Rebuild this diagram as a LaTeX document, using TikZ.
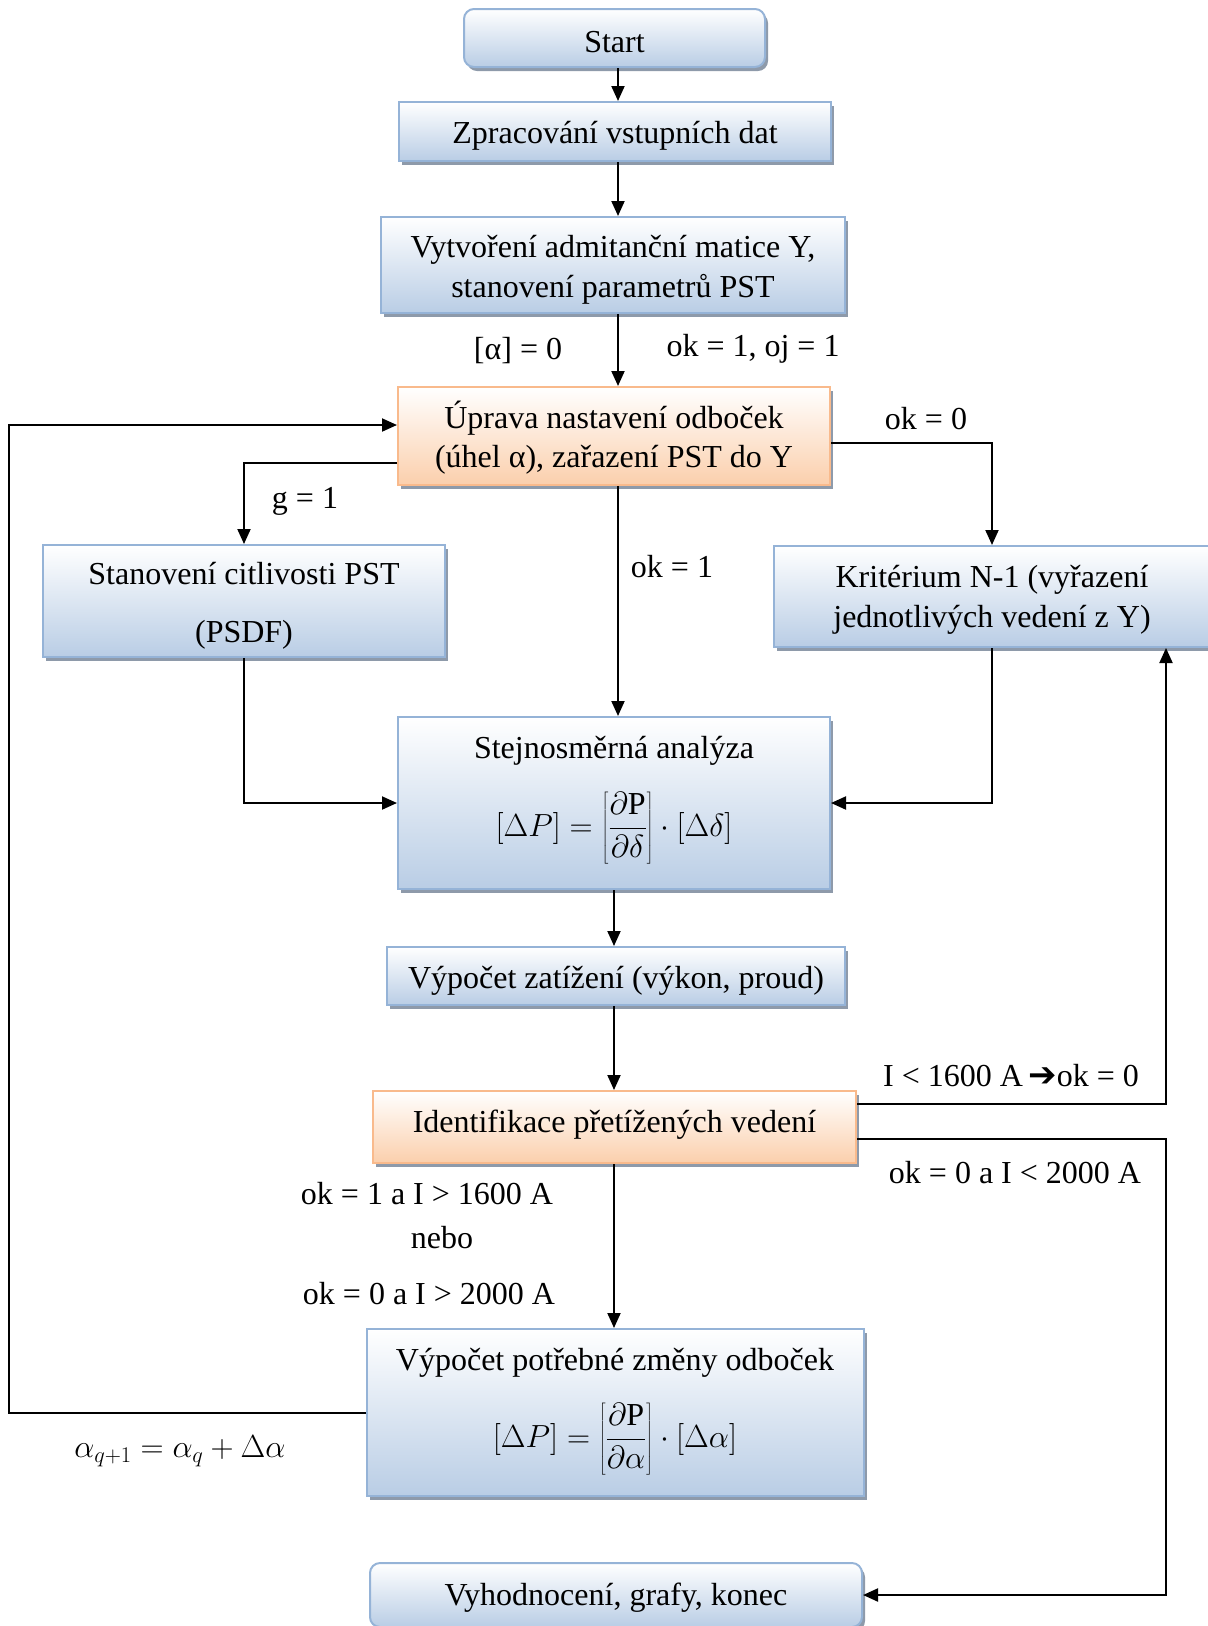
\RequirePackage{fix-cm}
\documentclass[tikz,border=0pt]{standalone}
\usepackage{fontspec}
\setmainfont{Liberation Serif}
\newfontfamily\djv{DejaVu Sans}
\usetikzlibrary{shadows,arrows.meta}
\definecolor{bluebot}{HTML}{B9CDE5}
\definecolor{blueline}{HTML}{95B3D7}
\definecolor{orbot}{HTML}{FBCFAC}
\definecolor{orline}{HTML}{F9BA8C}
\definecolor{shadowc}{HTML}{8E9AAA}
\newcommand{\bigfont}{\fontsize{32}{39.5}\selectfont}
\tikzset{
  bbox/.style={draw=blueline, line width=2pt, top color=white, bottom color=bluebot,
    drop shadow={shadow xshift=3pt, shadow yshift=-4pt, fill=shadowc, opacity=1},
    inner sep=0pt},
  obox/.style={bbox, draw=orline, bottom color=orbot},
  rbox/.style={bbox, rounded corners=10pt},
  txt/.style={inner sep=0pt, align=center, font=\bigfont},
  lbl/.style={inner sep=0pt, font=\bigfont},
  arr/.style={line width=2pt, -{Triangle[length=15pt,width=13pt]}}
}
\begin{document}
\begin{tikzpicture}[x=1pt,y=-1pt]
\useasboundingbox (0,0) rectangle (1208,1626);
% boxes
\node[rbox, minimum width=301pt, minimum height=58pt] (start) at (614.5,38) {};
\node[txt] (startT) at (614.5,42) {Start};
\node[bbox, minimum width=432pt, minimum height=59pt] (zprac) at (615,131.5) {};
\node[txt] (zpracT) at (615,135.5) {Zpracování vstupních dat};
\node[bbox, minimum width=464pt, minimum height=96pt] (vytv) at (613,265) {};
\node[txt] (vytvT) at (613,270) {Vytvoření admitanční matice Y,\\ stanovení parametrů PST};
\node[obox, minimum width=432pt, minimum height=98pt] (uprava) at (614,436) {};
\node[txt] (upravaT) at (614,437.5) {Úprava nastavení odboček\\ (úhel α), zařazení PST do Y};
\node[bbox, minimum width=402pt, minimum height=112pt] (stanov) at (244,601) {};
\node[txt] (stanovT) at (244,606) {Stanovení citlivosti PST\\[18pt](PSDF)};
\node[bbox, minimum width=436pt, minimum height=101pt] (krit) at (992,596.5) {};
\node[txt] (kritT) at (992,600) {Kritérium N-1 (vyřazení\\ jednotlivých vedení z Y)};
\node[bbox, minimum width=432pt, minimum height=172pt] (stejn) at (614,803) {};
\node[txt] (stejnT) at (614,751) {Stejnosměrná analýza};
\node[txt] (stejnF) at (614,828) {$\displaystyle [\Delta P] = \left[\frac{\partial \mathrm{P}}{\partial \delta}\right]\cdot[\Delta\delta]$};
\node[bbox, minimum width=458pt, minimum height=58pt] (zatiz) at (616,976) {};
\node[txt] (zatizT) at (616,981) {Výpočet zatížení (výkon, proud)};
\node[obox, minimum width=483pt, minimum height=72pt] (ident) at (614.5,1127) {};
\node[txt] (identT) at (614.5,1125) {Identifikace přetížených vedení};
\node[bbox, minimum width=497pt, minimum height=167pt] (potreb) at (615.5,1412.5) {};
\node[txt] (potrebT) at (615,1363) {Výpočet potřebné změny odboček};
\node[txt] (potrebF) at (615,1439) {$\displaystyle [\Delta P] = \left[\frac{\partial \mathrm{P}}{\partial \alpha}\right]\cdot[\Delta\alpha]$};
\node[rbox, minimum width=492pt, minimum height=64pt] (vyhod) at (616,1595) {};
\node[txt] (vyhodT) at (616,1598) {Vyhodnocení, grafy, konec};
% helper coordinates
\coordinate (cA) at (618,0);
\coordinate (cB) at (614,0);
\coordinate (rx) at (1166,0);
\coordinate (lx) at (9,0);
% connectors
\draw[arr] (start.south -| cA) -- (zprac.north -| cA);
\draw[arr] (zprac.south -| cA) -- (vytv.north -| cA);
\draw[arr] (vytv.south -| cA) -- (uprava.north -| cA);
\draw[arr] ([yshift=-27pt]uprava.west) -| (stanov.north);
\draw[arr] ([yshift=-7pt]uprava.east) -| (krit.north);
\draw[arr] (uprava.south -| cA) -- (stejn.north -| cA);
\draw[arr] (stanov.south) |- (stejn.west);
\draw[arr] (krit.south) |- (stejn.east);
\draw[arr] (stejn.south -| cB) -- (zatiz.north -| cB);
\draw[arr] (zatiz.south -| cB) -- (ident.north -| cB);
\draw[arr] (ident.south -| cB) -- (potreb.north -| cB);
\draw[arr] ([yshift=23pt]ident.east) -| (krit.south -| rx);
\draw[arr] ([yshift=-12pt]ident.east) -| (vyhod.east -| rx) -- (vyhod.east);
\draw[arr] (potreb.west) -- (potreb.west -| lx) |- ([yshift=11pt]uprava.west);
% labels
\node[lbl] (l1) at (518,351) {[α] = 0};
\node[lbl] (l2) at (753,349) {ok = 1, oj = 1};
\node[lbl] (l3) at (305,501) {g = 1};
\node[lbl] (l4) at (926,419) {ok = 0};
\node[lbl] (l5) at (672,567) {ok = 1};
\node[lbl] (l6) at (427,1194) {ok = 1 a I > 1600 A};
\node[lbl] (l7) at (442,1238) {nebo};
\node[lbl] (l8) at (429,1294) {ok = 0 a I > 2000 A};
\node[lbl] (l9) at (1011,1076) {I < 1600 A\,{\djv\fontsize{34}{34}\selectfont ➔}ok = 0};
\node[lbl] (l10) at (1015,1173) {ok = 0 a I < 2000 A};
\node[lbl] (l11) at (180,1451) {$\alpha_{q+1} = \alpha_q + \Delta\alpha$};
\end{tikzpicture}
\end{document}
